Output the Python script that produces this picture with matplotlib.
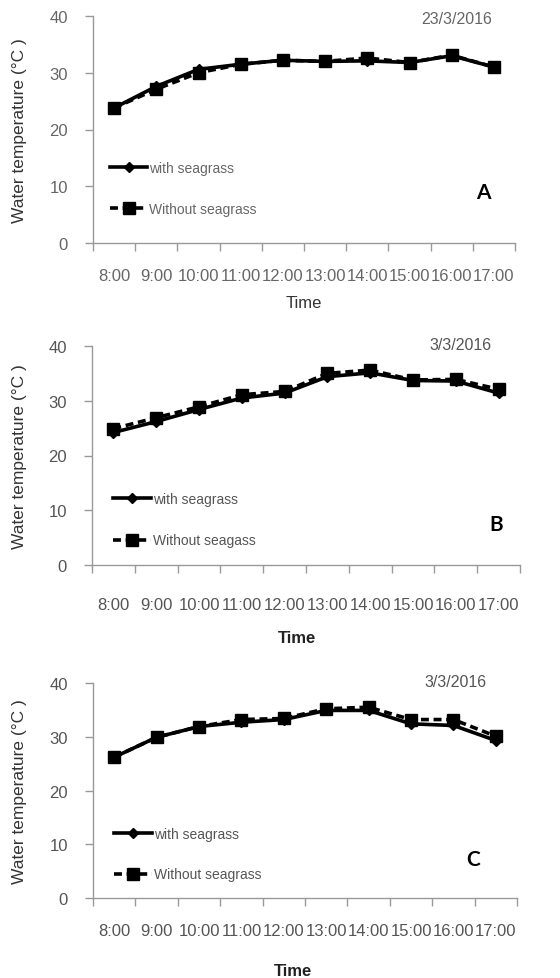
import numpy as np
import matplotlib
matplotlib.use("Agg")
import matplotlib.pyplot as plt

plt.rcParams['font.family'] = ['Liberation Sans', 'DejaVu Sans']

times = ["8:00", "9:00", "10:00", "11:00", "12:00", "13:00", "14:00", "15:00", "16:00", "17:00"]

# panel A, 23/3/2016
a_with = [23.8, 27.6, 30.6, 31.5, 32.2, 32.0, 32.1, 31.8, 33.0, 31.0]
a_without = [23.8, 27.1, 30.0, 31.5, 32.2, 32.0, 32.6, 31.8, 33.1, 31.0]

# panel B, 3/3/2016
b_with = [24.2, 26.2, 28.4, 30.5, 31.4, 34.4, 35.1, 33.7, 33.6, 31.4]
b_without = [24.9, 26.9, 28.9, 31.1, 31.7, 35.0, 35.6, 33.8, 33.9, 32.1]

# panel C, 3/3/2016
c_with = [26.2, 29.9, 31.9, 32.7, 33.2, 34.9, 34.9, 32.4, 32.1, 29.3]
c_without = [26.2, 29.9, 31.9, 33.2, 33.4, 35.2, 35.5, 33.2, 33.2, 30.1]

dates = ["23/3/2016", "3/3/2016", "3/3/2016"]
letters = ["A", "B", "C"]
without_labels = ["Without seagrass", "Without seagass", "Without seagrass"]

W, H = 560, 979
fig = plt.figure(figsize=(W / 100, H / 100), dpi=100)

# axes boxes in pixels: left, right, top, bottom
boxes = [(93, 515, 17, 244), (92, 520, 347, 566), (93, 517, 684, 899)]
date_pos = [(457, 20), (461, 346), (456, 683)]
letter_pos = [(483, 193), (496, 525), (473, 860)]
time_pos = [(304, 303), (297, 639), (293, 972)]
label_pad = [18, 23, 18]
legend_anchor = [(0.04, 0.36), (0.05, 0.335), (0.05, 0.33)]
leg_space = [1.9, 2.0, 1.9]
txt_col = ["#666666", "#555555", "#555555"]

series = [(a_with, a_without), (b_with, b_without), (c_with, c_without)]
x = np.arange(len(times)) + 0.5

for i, (yw, yo) in enumerate(series):
    l, r, t, b = boxes[i]
    ax = fig.add_axes([l / W, 1 - b / H, (r - l) / W, (b - t) / H])
    col = txt_col[i]

    ax.plot(x, yw, color="black", lw=2.6, marker="D", ms=5.5, label="with seagrass", zorder=3)
    ax.plot(x, yo, color="black", lw=2.6, ls=(0, (2.2, 1.3)), marker="s", ms=8,
            label=without_labels[i], zorder=4)

    ax.set_xlim(0, len(times))
    ax.set_ylim(0, 40)
    ax.set_yticks([0, 10, 20, 30, 40])
    ax.set_xticks(x, times)
    ax.set_xticks(np.arange(len(times) + 1), minor=True)
    ax.tick_params(axis="x", which="major", length=0, pad=label_pad[i], labelsize=12, labelcolor=col)
    ax.tick_params(axis="x", which="minor", length=6, color="#999999", width=1)
    ax.tick_params(axis="y", length=6, color="#999999", width=1, pad=12, labelsize=12, labelcolor=col)

    for s in ["top", "right"]:
        ax.spines[s].set_visible(False)
    for s in ["left", "bottom"]:
        ax.spines[s].set_color("#999999")
        ax.spines[s].set_linewidth(1)

    leg = ax.legend(loc="upper left", bbox_to_anchor=legend_anchor[i], frameon=False,
                    handlelength=2.7, handletextpad=0.15, labelspacing=leg_space[i],
                    borderaxespad=0, borderpad=0, fontsize=10)
    for tx in leg.get_texts():
        tx.set_color(col)

    fig.text(date_pos[i][0] / W, 1 - date_pos[i][1] / H, dates[i], ha="center", va="center",
             fontsize=11.5, color=col)
    fig.text(letter_pos[i][0] / W, 1 - letter_pos[i][1] / H, letters[i], ha="center", va="center",
             fontsize=15, fontweight="bold", family=["Lato", "DejaVu Sans"], color="black")
    fig.text(time_pos[i][0] / W, 1 - time_pos[i][1] / H, "Time", ha="center", va="center",
             fontsize=12, color="#333333" if i == 0 else "#222222",
             fontweight="normal" if i == 0 else "bold")
    fig.text(20 / W, 1 - ((t + b) / 2) / H, "Water temperature (°C )", rotation=90,
             ha="center", va="center", fontsize=12.5, color="#333333")

fig.savefig("out.png", dpi=100)
